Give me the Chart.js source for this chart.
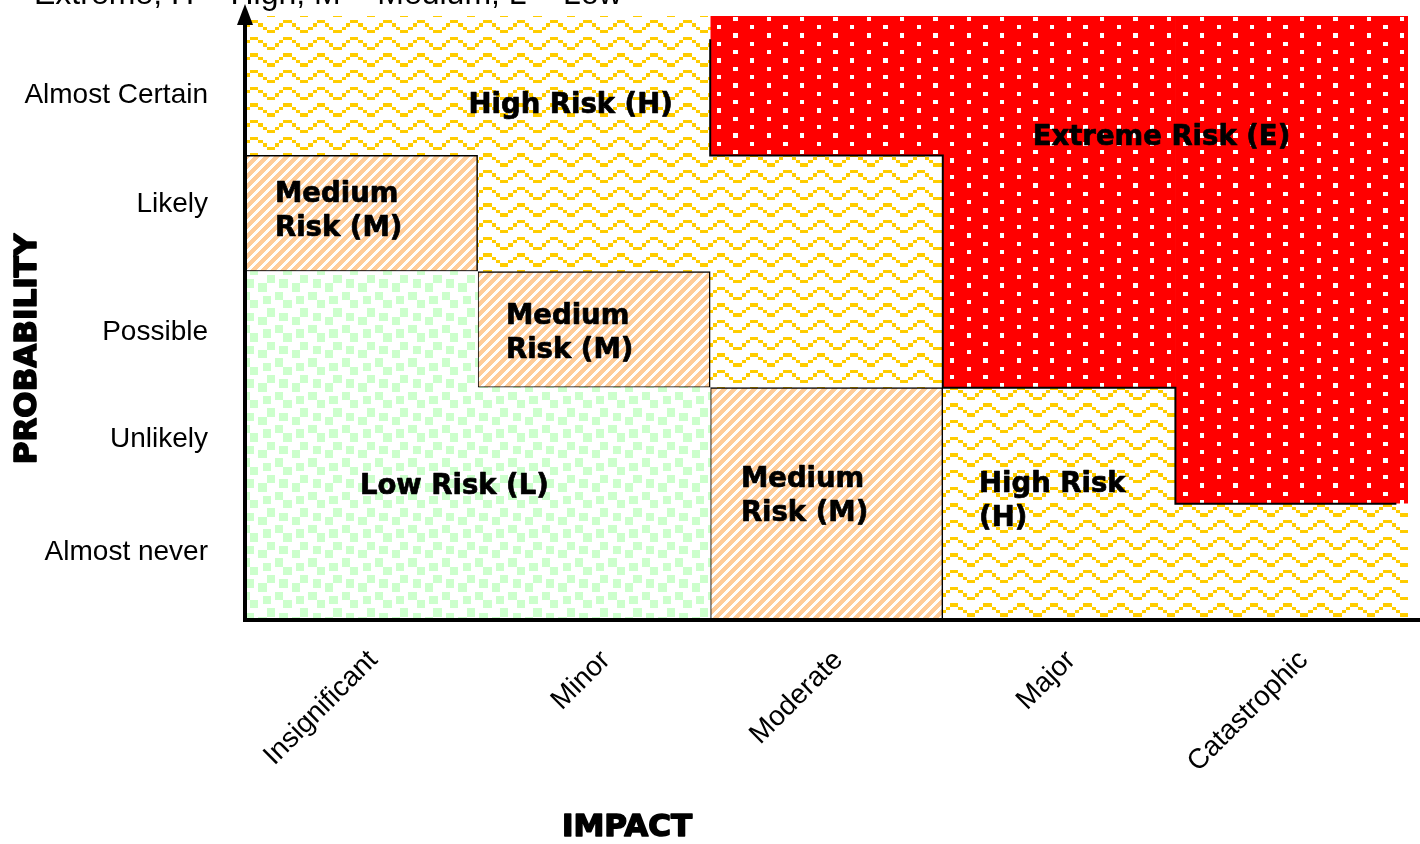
<!DOCTYPE html>
<html><head><meta charset="utf-8">
<script src="https://cdn.jsdelivr.net/npm/chart.js@4.4.1/dist/chart.umd.min.js"></script>
<style>html,body{margin:0;padding:0;background:#fff;}#wrap{width:1420px;height:844px;position:relative;}</style>
</head><body><div id="wrap"><canvas id="c"></canvas></div>
<script>
// ---- data ----
const impactLabels = ['Insignificant', 'Minor', 'Moderate', 'Major', 'Catastrophic'];
const probabilityLabels = ['Almost never', 'Unlikely', 'Possible', 'Likely', 'Almost Certain'];
const probabilityTickValues = [0.58, 1.56, 2.48, 3.58, 4.52];
const lowRisk     = [[0, 3], [0, 2], null, null, null];
const mediumRisk  = [[3, 4], [2, 3], [0, 2], null, null];
const highRisk    = [[4, 5.2], [3, 5.2], [2, 4], [0, 2], [0, 1]];
const extremeRisk = [null, null, [4, 5.2], [2, 5.2], [1, 5.2]];
// outline of the extreme zone, x in column-boundary units (0 = left edge of first column)
const extremeOutline = [{x: 2, y: 5}, {x: 2, y: 4}, {x: 3, y: 4}, {x: 3, y: 2}, {x: 4, y: 2}, {x: 4, y: 1}, {x: 4.95, y: 1}];
const regionLabels = [
  {lines: ['High Risk (H)'], x: 1.40, y: 4.43, align: 'center'},
  {lines: ['Extreme Risk (E)'], x: 3.94, y: 4.15, align: 'center'},
  {lines: ['Medium', 'Risk (M)'], x: 0.129, y: 3.51, align: 'left'},
  {lines: ['Medium', 'Risk (M)'], x: 1.122, y: 2.46, align: 'left'},
  {lines: ['Medium', 'Risk (M)'], x: 2.132, y: 1.06, align: 'left'},
  {lines: ['Low Risk (L)'], x: 0.90, y: 1.145, align: 'center'},
  {lines: ['High Risk', '(H)'], x: 3.156, y: 1.02, align: 'left'}
];
const headerText = 'Extreme, H = High, M = Medium, L = Low';
const xTitle = 'IMPACT';
const yTitle = 'PROBABILITY';

// ---- patterns ----
function makePattern(w, h, draw) {
  const c = document.createElement('canvas'); c.width = w; c.height = h;
  const g = c.getContext('2d'); draw(g);
  return g.createPattern(c, 'repeat');
}
function cell(g, c, r, sx, sy) {
  const x0 = Math.round(c * sx), y0 = Math.round(r * sy), x1 = Math.round((c + 1) * sx), y1 = Math.round((r + 1) * sy);
  g.fillRect(x0, y0, x1 - x0, y1 - y0);
}
const S = 100 / 24;
const wavePattern = makePattern(100, 50, g => {
  g.fillStyle = '#fff'; g.fillRect(0, 0, 100, 50);
  g.fillStyle = '#FFCC00';
  const waveRows = [4, 4, 3, 2, 1, 1, 2, 3];
  for (let p = 0; p < 3; p++) for (let q = 0; q < 3; q++)
    waveRows.forEach((r, c) => cell(g, p * 8 + c, q * 5 + r, S, 50 / 15));
});
const confettiPattern = makePattern(100, 100, g => {
  g.fillStyle = '#fff'; g.fillRect(0, 0, 100, 100);
  g.fillStyle = '#CCFFCC';
  const rows = ['#...##.#', '....##..', '##......', '##.##...', '...##.##', '......##', '..##....', '#.##...#'];
  for (let p = 0; p < 3; p++) for (let q = 0; q < 3; q++)
    rows.forEach((row, r) => { for (let c = 0; c < 8; c++) if (row[c] === '#') cell(g, p * 8 + c, q * 8 + r, S, S); });
});
const dotPattern = makePattern(100, 50, g => {
  g.fillStyle = '#FF0000'; g.fillRect(0, 0, 100, 50);
  g.fillStyle = '#fff';
  for (let p = 0; p < 3; p++) for (let q = 0; q < 3; q++) { cell(g, p * 8, q * 4, S, S); cell(g, p * 8 + 4, q * 4 + 2, S, S); }
});
const diagPattern = makePattern(10, 10, g => {
  g.fillStyle = '#fff'; g.fillRect(0, 0, 10, 10);
  g.fillStyle = '#FFCC99';
  for (let x = 0; x < 10; x++) for (let y = 0; y < 10; y++) if ((x + y) % 10 < 6) g.fillRect(x, y, 1, 1);
});

const FONT_SANS = "'Liberation Sans', Arial, sans-serif";
const FONT_BOLD = "'DejaVu Sans', Verdana, sans-serif";

// column-boundary units -> category index units
const toIndex = u => u - 0.5;

function heavyText(ctx, t, x, y, w) {
  ctx.lineWidth = w; ctx.lineJoin = 'round';
  ctx.strokeText(t, x, y); ctx.fillText(t, x, y);
}

const overlay = {
  id: 'overlay',
  afterDatasetsDraw(chart) {
    const ctx = chart.ctx, a = chart.chartArea, xs = chart.scales.x, ys = chart.scales.y;
    ctx.save();
    ctx.fillStyle = '#000'; ctx.strokeStyle = '#000';
    ctx.font = 'bold 27.5px ' + FONT_BOLD;
    ctx.textBaseline = 'middle';
    regionLabels.forEach(l => {
      const px = xs.getPixelForValue(toIndex(l.x)), py = ys.getPixelForValue(l.y);
      ctx.textAlign = l.align;
      const lh = 34, y0 = py - (l.lines.length - 1) * lh / 2;
      l.lines.forEach((t, i) => heavyText(ctx, t, px, y0 + i * lh, 0.7));
    });
    // axes with arrow
    ctx.lineWidth = 4;
    ctx.beginPath();
    ctx.moveTo(a.left, a.bottom + 2); ctx.lineTo(a.left, 20);
    ctx.moveTo(a.left - 2, a.bottom); ctx.lineTo(chart.width, a.bottom);
    ctx.stroke();
    ctx.beginPath();
    ctx.moveTo(a.left, 4); ctx.lineTo(a.left - 8, 25); ctx.lineTo(a.left + 8, 25); ctx.closePath();
    ctx.fill();
    ctx.restore();
  },
  afterDraw(chart) {
    const ctx = chart.ctx;
    ctx.save();
    ctx.fillStyle = '#000'; ctx.strokeStyle = '#000';
    ctx.font = '32px ' + FONT_SANS;
    ctx.textAlign = 'left'; ctx.textBaseline = 'alphabetic';
    ctx.fillText(headerText, 34, 4);
    ctx.font = 'bold 31px ' + FONT_BOLD;
    ctx.textAlign = 'center'; ctx.textBaseline = 'middle';
    heavyText(ctx, xTitle, 627, 828, 1.6);
    ctx.translate(28, 349); ctx.rotate(-Math.PI / 2);
    heavyText(ctx, yTitle, 0, 0, 1.6);
    ctx.restore();
  }
};

const barCommon = {type: 'bar', xAxisID: 'x', yAxisID: 'y', grouped: false, barPercentage: 1, categoryPercentage: 1, borderSkipped: false};

new Chart(document.getElementById('c'), {
  type: 'bar',
  data: {
    labels: impactLabels,
    datasets: [
      {type: 'line', label: 'outline', xAxisID: 'x', yAxisID: 'y', parsing: false,
       data: extremeOutline.map(p => ({x: toIndex(p.x), y: p.y})),
       borderColor: '#000', borderWidth: 2, pointRadius: 0, fill: false, tension: 0, order: -1},
      Object.assign({label: 'Low Risk (L)', data: lowRisk, backgroundColor: confettiPattern, borderWidth: 0}, barCommon),
      Object.assign({label: 'Medium Risk (M)', data: mediumRisk, backgroundColor: diagPattern, borderColor: '#000', borderWidth: 1.5}, barCommon),
      Object.assign({label: 'High Risk (H)', data: highRisk, backgroundColor: wavePattern, borderWidth: 0}, barCommon),
      Object.assign({label: 'Extreme Risk (E)', data: extremeRisk, backgroundColor: dotPattern, borderWidth: 0}, barCommon)
    ]
  },
  options: {
    responsive: true, maintainAspectRatio: false, animation: false, devicePixelRatio: 1,
    layout: {padding: {top: 16, right: 12, left: 0, bottom: 0}},
    plugins: {legend: {display: false}, tooltip: {enabled: false}, title: {display: false}},
    scales: {
      x: {
        type: 'category', position: 'bottom', offset: true,
        grid: {display: false, drawTicks: false}, border: {display: false},
        ticks: {color: '#000', font: {size: 28, family: FONT_SANS}, minRotation: 45, maxRotation: 45, autoSkip: false, padding: 24, labelOffset: 12},
        afterFit(s) { s.height = 224; s.paddingLeft = 0; s.paddingRight = 0; s.paddingTop = 0; s.paddingBottom = 0; }
      },
      y: {
        type: 'linear', min: 0, max: 5.2,
        grid: {display: false, drawTicks: false}, border: {display: false},
        afterBuildTicks(s) { s.ticks = probabilityTickValues.map(v => ({value: v})); },
        ticks: {color: '#000', font: {size: 28, family: FONT_SANS}, padding: 37, autoSkip: false, callback: (v, i) => probabilityLabels[i]},
        afterFit(s) { s.width = 245; s.paddingLeft = 0; s.paddingRight = 0; s.paddingTop = 0; s.paddingBottom = 0; }
      }
    }
  },
  plugins: [overlay]
});
</script></body></html>
